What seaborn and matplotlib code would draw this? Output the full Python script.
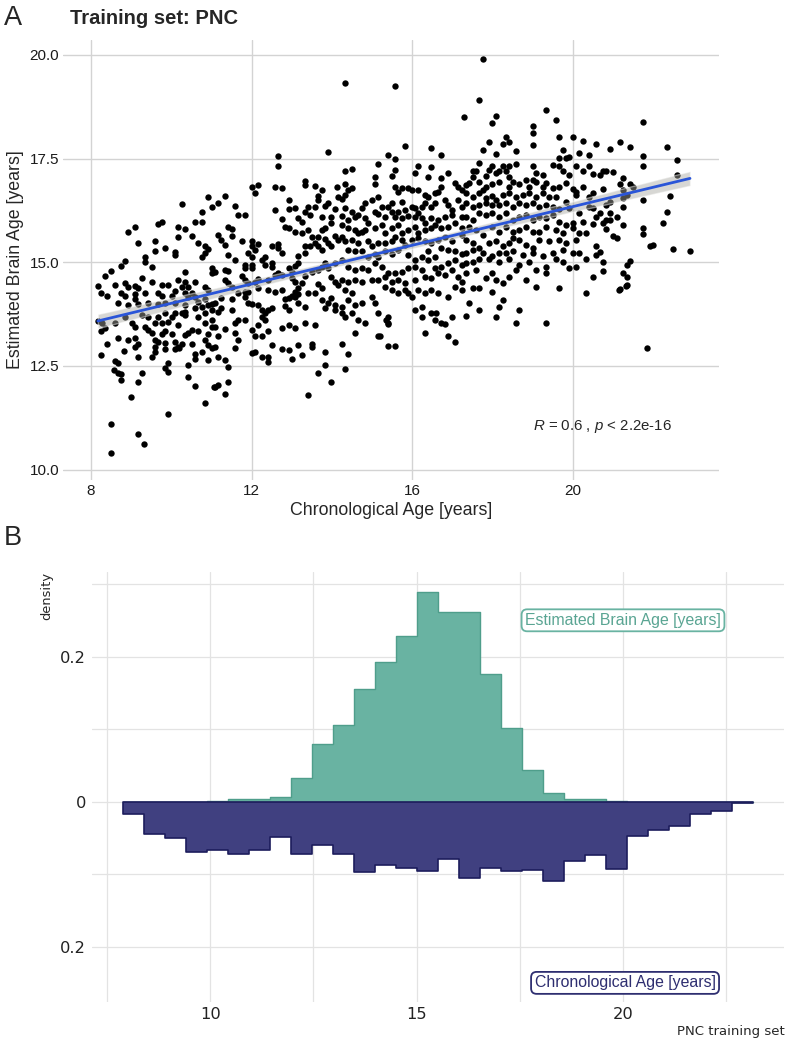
import numpy as np
import pandas as pd
import matplotlib.pyplot as plt
import seaborn as sns

# ---- scatter values: (chronological age, estimated brain age) ----
pts_age08_11 = [
    (10.92, 16.58), (11.01, 16.32), (10.26, 16.41), (10.76, 16.20), (10.59, 15.96), (10.76, 15.97),
    (9.68, 15.92), (9.76, 15.97), (9.10, 15.86), (8.91, 15.73), (10.17, 15.84), (10.34, 15.81),
    (10.17, 15.62), (10.51, 15.63), (9.16, 15.46), (9.59, 15.51), (9.59, 15.27), (9.84, 15.34),
    (10.09, 15.25), (10.09, 15.17), (10.67, 15.46), (10.84, 15.38), (10.92, 15.33), (10.84, 15.22),
    (10.76, 15.12), (9.34, 15.12), (9.34, 15.01), (9.51, 14.89), (8.85, 15.03), (8.75, 14.91),
    (8.51, 14.80), (8.35, 14.67), (11.01, 14.85), (11.01, 14.73), (10.34, 14.76), (10.17, 14.57),
    (10.34, 14.52), (10.59, 14.52), (10.42, 14.41), (10.26, 14.41), (9.26, 14.61), (9.51, 14.52),
    (8.60, 14.45), (8.85, 14.49), (8.93, 14.40), (9.10, 14.43), (9.18, 14.37), (9.76, 14.44),
    (9.93, 14.44), (10.09, 14.31), (8.17, 14.43), (8.25, 14.25), (8.41, 14.19), (8.76, 14.25),
    (8.85, 14.19), (9.10, 14.23), (9.10, 14.11), (9.34, 14.27), (9.68, 14.27), (9.76, 14.19),
    (10.01, 14.19), (10.51, 14.27), (10.59, 14.17), (10.84, 14.40), (10.92, 14.33), (10.34, 14.27),
    (10.42, 14.17), (10.67, 14.05), (10.84, 14.11), (10.92, 13.97), (11.01, 13.85), (8.68, 14.02),
    (8.93, 13.96), (9.18, 13.99), (9.43, 14.01), (9.68, 13.99), (9.84, 14.02), (10.09, 14.01),
    (10.34, 13.98), (10.26, 13.77), (10.34, 13.81), (10.59, 13.89), (10.76, 13.93), (10.84, 13.77),
    (11.01, 13.99), (8.18, 13.59), (8.27, 13.53), (8.25, 13.33), (8.35, 13.41), (8.60, 13.54),
    (8.85, 13.69), (9.01, 13.53), (9.10, 13.45), (9.26, 13.73), (9.34, 13.45), (9.43, 13.69),
    (9.59, 13.53), (9.68, 13.67), (9.76, 13.54), (9.84, 13.77), (9.93, 13.57), (10.01, 13.69),
    (10.09, 13.77), (10.17, 13.49), (10.34, 13.73), (10.67, 13.69), (10.84, 13.53), (11.01, 13.61),
    (9.43, 13.37), (9.51, 13.30), (9.76, 13.28), (9.84, 13.33), (10.01, 13.27), (10.34, 13.25),
    (10.42, 13.30), (10.51, 13.37), (10.67, 13.33), (10.92, 13.28), (11.01, 13.45), (8.68, 13.17),
    (8.93, 13.12), (9.10, 13.17), (9.18, 13.04), (9.59, 13.12), (9.68, 13.08), (9.84, 13.06),
    (10.09, 13.08), (10.17, 12.96), (10.26, 13.04), (10.51, 13.04), (10.84, 13.12), (10.92, 13.00),
    (11.01, 12.92), (8.41, 13.03), (8.83, 12.87), (9.10, 12.96), (9.16, 12.72), (9.59, 12.96),
    (9.59, 12.84), (9.84, 12.90), (10.09, 12.90), (10.20, 12.93), (9.51, 12.71), (8.25, 12.76),
    (10.59, 12.79), (10.76, 12.84), (10.92, 12.64), (10.59, 12.66), (8.60, 12.63), (8.68, 12.56),
    (8.58, 12.40), (8.68, 12.34), (8.76, 12.30), (8.75, 12.16), (9.93, 12.56), (9.84, 12.44),
    (9.93, 12.36), (10.42, 12.52), (9.26, 12.32), (9.16, 12.12), (10.42, 12.24), (10.59, 12.01),
    (11.07, 11.98), (10.84, 11.61), (8.99, 11.74), (9.91, 11.34), (8.50, 11.10), (9.16, 10.87),
    (8.50, 10.39), (9.33, 10.62),
]

pts_age11_14 = [
    (13.91, 17.65), (12.67, 17.55), (12.67, 17.31), (12.00, 16.82), (12.17, 16.87), (12.09, 16.68),
    (12.58, 16.81), (12.75, 16.78), (13.33, 16.97), (13.33, 16.87), (13.58, 16.84), (13.75, 16.74),
    (13.66, 16.60), (13.66, 16.50), (14.12, 16.82), (11.34, 16.60), (11.17, 16.42), (11.59, 16.36),
    (11.67, 16.14), (11.84, 16.14), (12.58, 16.25), (12.92, 16.50), (12.75, 16.04), (12.92, 16.28),
    (13.08, 16.30), (13.16, 16.06), (13.25, 15.96), (13.33, 16.22), (13.45, 16.14), (13.41, 16.34),
    (13.58, 16.34), (13.75, 16.08), (13.83, 16.36), (13.91, 16.42), (13.99, 16.10), (14.08, 16.28),
    (14.16, 16.58), (12.83, 15.86), (12.92, 15.82), (13.08, 15.74), (13.25, 15.70), (11.42, 15.86),
    (11.50, 15.80), (11.17, 15.66), (11.25, 15.54), (11.34, 15.42), (11.50, 15.63), (11.75, 15.52),
    (12.00, 15.52), (12.00, 15.39), (12.17, 15.44), (11.92, 15.22), (12.00, 15.13), (12.09, 15.30),
    (11.59, 15.05), (11.42, 15.18), (12.50, 15.38), (12.67, 15.44), (12.67, 15.34), (12.75, 15.22),
    (13.41, 15.78), (13.50, 15.62), (13.66, 15.62), (13.75, 15.78), (13.83, 15.82), (13.99, 15.94),
    (13.83, 15.56), (13.91, 15.47), (14.08, 15.63), (14.16, 15.54), (13.58, 15.46), (13.45, 15.39),
    (13.66, 15.38), (13.75, 15.30), (13.99, 15.38), (13.33, 15.38), (13.33, 15.22), (13.16, 15.15),
    (13.08, 14.91), (13.16, 14.97), (12.92, 14.85), (13.00, 14.77), (12.25, 15.05), (12.33, 15.13),
    (12.33, 14.93), (12.50, 14.99), (12.50, 14.89), (11.84, 14.93), (11.84, 14.85), (12.00, 14.93),
    (12.00, 14.85), (11.34, 14.81), (11.42, 14.80), (11.09, 14.77), (11.75, 14.67), (11.84, 14.57),
    (11.92, 14.49), (12.09, 14.53), (12.17, 14.59), (12.42, 14.56), (12.58, 14.69), (12.67, 14.73),
    (12.75, 14.69), (11.34, 14.57), (11.42, 14.49), (11.50, 14.41), (11.25, 14.13), (11.50, 14.11),
    (11.09, 14.01), (11.67, 14.25), (11.84, 14.29), (11.92, 14.29), (12.17, 14.37), (12.42, 14.33),
    (12.58, 14.29), (12.75, 14.33), (13.00, 14.61), (13.08, 14.53), (13.08, 14.29), (13.16, 14.37),
    (13.25, 14.49), (13.33, 14.67), (13.50, 14.77), (13.66, 14.81), (13.75, 14.89), (13.83, 14.97),
    (13.91, 14.85), (14.08, 14.97), (13.99, 14.65), (14.08, 14.53), (14.16, 14.45), (13.66, 14.48),
    (13.58, 14.25), (13.41, 14.25), (13.75, 14.37), (13.00, 14.19), (13.08, 14.15), (13.16, 14.24),
    (12.83, 14.11), (12.92, 14.13), (12.83, 13.95), (12.92, 13.85), (13.16, 14.01), (13.33, 13.93),
    (13.75, 14.09), (13.83, 13.89), (13.91, 14.01), (13.99, 14.13), (14.08, 13.97), (14.08, 13.85),
    (11.84, 14.15), (11.92, 14.01), (12.00, 14.00), (12.17, 13.97), (12.25, 13.85), (12.33, 13.78),
    (12.42, 13.85), (12.50, 13.89), (12.25, 13.69), (12.33, 13.61), (11.25, 13.89), (11.50, 13.85),
    (11.17, 13.81), (11.59, 13.53), (11.67, 13.61), (11.84, 13.61), (12.00, 13.37), (12.09, 13.21),
    (12.25, 13.21), (12.17, 13.49), (12.42, 13.33), (12.75, 13.41), (12.92, 13.49), (13.08, 13.41),
    (13.33, 13.53), (13.58, 13.49), (11.09, 13.45), (11.34, 13.38), (11.17, 13.21), (11.59, 13.29),
    (11.67, 13.12), (11.59, 12.92), (11.09, 12.96), (11.17, 12.72), (11.34, 12.64), (12.09, 12.84),
    (12.00, 12.80), (12.25, 12.72), (12.42, 12.72), (12.42, 12.60), (12.50, 13.00), (12.75, 12.90),
    (12.92, 12.88), (13.00, 12.66), (13.16, 13.00), (13.25, 12.76), (13.50, 13.04), (13.50, 12.95),
    (13.83, 12.84), (13.83, 12.52), (13.66, 12.34), (11.42, 12.48), (11.42, 12.12), (11.17, 12.04),
    (11.09, 12.00), (11.34, 11.82), (13.41, 11.80), (13.99, 12.12),
]

pts_age14_17 = [
    (14.33, 19.32), (15.57, 19.25), (17.30, 18.50), (15.82, 17.80), (16.48, 17.76), (15.41, 17.59),
    (15.57, 17.50), (16.73, 17.58), (15.16, 17.37), (14.49, 17.24), (14.33, 17.19), (16.15, 17.32),
    (16.07, 17.14), (16.48, 17.29), (16.40, 17.06), (16.90, 17.14), (15.07, 17.06), (15.07, 16.88),
    (15.49, 17.08), (15.57, 17.23), (14.33, 16.89), (14.41, 16.73), (14.49, 16.78), (14.33, 16.62),
    (14.24, 16.52), (15.57, 16.81), (15.74, 16.78), (15.65, 16.70), (15.90, 16.78), (15.99, 16.73),
    (16.15, 16.74), (16.32, 16.62), (16.40, 16.58), (16.57, 16.68), (16.65, 16.70), (16.73, 17.02),
    (16.73, 16.82), (17.07, 16.90), (17.15, 16.82), (17.23, 16.74), (14.82, 16.42), (14.74, 16.30),
    (14.99, 16.50), (15.16, 16.57), (15.24, 16.34), (15.41, 16.34), (15.49, 16.44), (15.74, 16.46),
    (15.65, 16.22), (15.82, 16.26), (15.99, 16.34), (16.07, 16.30), (16.15, 16.18), (16.24, 16.34),
    (16.32, 16.42), (16.48, 16.34), (16.57, 16.42), (16.82, 16.50), (16.90, 16.38), (16.98, 16.26),
    (17.15, 16.50), (17.23, 16.34), (14.33, 16.30), (14.49, 16.22), (14.24, 16.12), (14.41, 16.02),
    (14.57, 16.10), (14.66, 16.14), (14.82, 16.06), (14.91, 15.94), (15.07, 16.22), (15.16, 16.16),
    (15.32, 16.10), (15.49, 16.20), (15.57, 16.10), (15.74, 16.06), (15.90, 16.12), (16.07, 16.10),
    (16.24, 16.06), (16.32, 15.94), (16.48, 16.06), (16.65, 16.02), (16.82, 16.10), (16.98, 16.14),
    (17.23, 16.10), (14.24, 15.90), (14.41, 15.82), (14.57, 15.78), (14.66, 15.70), (14.74, 15.74),
    (14.82, 15.78), (15.07, 15.82), (15.24, 15.90), (15.32, 15.70), (15.49, 15.82), (15.65, 15.90),
    (15.74, 15.70), (15.90, 15.78), (16.07, 15.86), (16.15, 15.70), (16.32, 15.78), (16.48, 15.82),
    (16.57, 15.90), (16.73, 15.82), (16.90, 15.86), (17.07, 15.94), (17.23, 15.82), (14.24, 15.62),
    (14.33, 15.50), (14.49, 15.54), (14.66, 15.46), (14.91, 15.50), (14.99, 15.38), (15.16, 15.47),
    (15.32, 15.46), (15.49, 15.50), (15.57, 15.62), (15.74, 15.54), (15.82, 15.42), (15.99, 15.54),
    (16.15, 15.58), (16.32, 15.50), (16.48, 15.46), (16.65, 15.54), (16.82, 15.62), (16.98, 15.50),
    (17.23, 15.66), (14.41, 15.30), (14.57, 15.26), (14.74, 15.26), (14.91, 15.13), (15.07, 15.21),
    (15.16, 15.13), (15.32, 15.26), (15.49, 15.21), (15.65, 15.30), (15.90, 15.17), (16.07, 15.05),
    (16.24, 15.13), (16.40, 15.26), (16.57, 15.13), (16.73, 15.34), (16.90, 15.30), (17.07, 15.26),
    (17.23, 15.21), (14.24, 15.05), (14.41, 14.89), (14.57, 14.81), (14.74, 14.85), (14.91, 14.81),
    (15.07, 14.97), (15.24, 14.89), (15.41, 14.73), (15.57, 14.73), (15.74, 14.77), (15.90, 14.85),
    (16.07, 14.89), (16.24, 14.81), (16.40, 15.05), (16.57, 14.85), (16.73, 14.89), (16.90, 14.97),
    (17.07, 15.05), (17.23, 14.93), (14.24, 14.57), (14.41, 14.53), (14.57, 14.57), (14.74, 14.53),
    (14.99, 14.57), (15.16, 14.57), (15.32, 14.65), (15.49, 14.53), (15.65, 14.57), (15.82, 14.49),
    (16.07, 14.57), (16.32, 14.65), (16.48, 14.61), (16.65, 14.73), (16.82, 14.69), (16.98, 14.81),
    (17.15, 14.65), (17.23, 14.53), (14.33, 14.33), (14.49, 14.25), (14.24, 13.93), (14.41, 14.09),
    (14.57, 13.97), (14.74, 14.01), (14.99, 14.15), (15.07, 14.01), (15.32, 14.41), (15.49, 14.33),
    (15.65, 14.25), (15.82, 14.33), (15.90, 14.25), (15.99, 14.17), (16.15, 14.33), (16.32, 14.25),
    (16.48, 14.33), (16.65, 14.25), (16.90, 14.17), (17.07, 14.41), (17.23, 14.33), (14.24, 13.77),
    (14.33, 13.69), (14.49, 13.77), (14.66, 13.61), (14.82, 13.53), (15.16, 13.77), (15.41, 13.53),
    (15.41, 13.69), (16.07, 13.85), (16.24, 13.69), (16.48, 13.77), (16.57, 13.61), (16.73, 13.53),
    (16.98, 13.69), (14.57, 13.29), (15.16, 13.21), (16.32, 13.29), (16.90, 13.21), (17.07, 13.08),
    (14.24, 13.04), (15.41, 12.99), (15.57, 12.99), (14.33, 12.42), (14.41, 12.79), (15.34, 13.61),
    (15.40, 13.51), (15.20, 13.22), (16.25, 13.91), (16.59, 13.77), (16.83, 13.51),
]

pts_age17_20 = [
    (17.76, 19.90), (17.67, 18.91), (18.09, 18.53), (18.00, 18.35), (19.33, 18.67), (19.58, 18.42),
    (19.00, 18.29), (19.00, 18.11), (19.00, 17.82), (18.34, 18.03), (18.25, 17.85), (18.42, 17.91),
    (17.92, 17.90), (17.76, 17.71), (18.09, 17.61), (18.59, 17.69), (19.66, 18.01), (20.00, 18.03),
    (20.25, 17.92), (20.41, 17.59), (19.75, 17.71), (20.16, 17.63), (19.66, 17.51), (19.83, 17.51),
    (19.91, 17.53), (17.67, 17.40), (18.00, 17.31), (18.25, 17.31), (18.42, 17.32), (18.59, 17.37),
    (17.51, 17.21), (17.59, 17.19), (17.51, 17.05), (17.92, 17.23), (18.09, 17.15), (18.17, 17.19),
    (17.84, 17.07), (18.34, 17.19), (18.42, 17.05), (19.00, 17.31), (19.08, 17.15), (19.25, 17.11),
    (19.00, 16.98), (19.50, 17.35), (19.66, 17.31), (19.75, 17.19), (19.91, 17.11), (20.08, 17.32),
    (20.25, 17.19), (20.41, 17.31), (17.34, 16.86), (17.42, 16.90), (17.67, 16.94), (17.76, 16.74),
    (17.84, 16.82), (18.00, 16.89), (18.17, 16.94), (18.42, 16.82), (18.50, 16.94), (18.67, 16.89),
    (18.83, 16.98), (18.92, 16.82), (19.08, 16.94), (19.25, 16.82), (19.33, 16.90), (19.50, 16.78),
    (19.66, 16.82), (19.83, 16.90), (20.00, 16.76), (20.08, 16.70), (20.25, 16.82), (17.34, 16.66),
    (17.51, 16.58), (17.67, 16.66), (17.84, 16.54), (18.00, 16.60), (18.09, 16.50), (18.25, 16.62),
    (18.42, 16.66), (18.59, 16.58), (18.75, 16.62), (18.92, 16.66), (19.08, 16.58), (19.25, 16.66),
    (19.42, 16.58), (19.58, 16.58), (19.83, 16.46), (20.08, 16.62), (20.41, 16.58), (17.34, 16.42),
    (17.51, 16.34), (17.67, 16.38), (17.84, 16.42), (18.00, 16.38), (18.17, 16.38), (18.34, 16.42),
    (18.50, 16.34), (18.67, 16.44), (18.83, 16.38), (19.00, 16.42), (19.17, 16.34), (19.33, 16.38),
    (19.50, 16.34), (19.66, 16.28), (19.91, 16.30), (20.16, 16.18), (20.41, 16.34), (17.34, 16.10),
    (17.51, 16.02), (17.67, 16.18), (17.84, 16.14), (18.00, 16.18), (18.17, 16.10), (18.34, 16.18),
    (18.50, 16.02), (18.67, 16.10), (18.83, 16.14), (19.00, 16.02), (19.17, 16.10), (19.33, 16.06),
    (19.50, 16.14), (19.66, 15.98), (19.83, 15.90), (20.00, 15.94), (20.25, 15.98), (17.42, 15.86),
    (17.59, 15.78), (17.76, 15.66), (18.00, 15.86), (18.17, 15.74), (18.34, 15.86), (18.50, 15.74),
    (18.50, 15.58), (18.67, 15.78), (18.83, 15.86), (19.00, 15.74), (19.17, 15.74), (19.33, 15.86),
    (19.58, 15.78), (19.75, 15.70), (20.00, 15.82), (20.16, 15.70), (20.33, 15.70), (17.34, 15.54),
    (17.51, 15.46), (17.67, 15.34), (17.92, 15.46), (18.09, 15.50), (18.25, 15.38), (18.42, 15.46),
    (18.67, 15.54), (18.83, 15.42), (19.00, 15.34), (19.17, 15.54), (19.42, 15.50), (19.66, 15.54),
    (19.83, 15.46), (20.08, 15.54), (17.34, 15.22), (17.51, 15.30), (17.76, 15.22), (18.00, 15.14),
    (18.17, 15.22), (18.34, 15.22), (18.50, 15.26), (18.75, 15.18), (19.00, 15.22), (19.25, 15.14),
    (19.50, 15.22), (19.75, 15.30), (20.00, 15.22), (20.16, 15.22), (20.33, 15.07), (17.34, 14.97),
    (17.51, 15.01), (17.67, 15.07), (17.92, 15.07), (18.17, 15.01), (18.42, 15.07), (18.67, 14.93),
    (18.92, 15.01), (19.08, 14.81), (19.33, 14.89), (19.58, 15.07), (19.75, 15.01), (19.91, 14.85),
    (20.08, 14.89), (17.34, 14.73), (17.59, 14.81), (17.84, 14.61), (18.00, 14.73), (18.09, 14.57),
    (18.25, 14.49), (18.42, 14.65), (18.59, 14.81), (18.83, 14.57), (19.08, 14.41), (19.33, 14.73),
    (19.66, 14.37), (17.51, 14.37), (17.67, 14.37), (18.00, 14.29), (18.25, 14.09), (18.17, 13.93),
    (17.42, 14.01), (17.67, 13.85), (17.34, 13.70), (18.09, 13.69), (18.67, 13.86), (18.59, 13.53),
    (19.33, 13.54), (20.33, 14.27),
]

pts_age20_23 = [
    (21.76, 18.39), (22.34, 17.79), (22.59, 17.47), (21.76, 17.56), (21.76, 17.31), (22.59, 17.11),
    (20.59, 17.85), (21.18, 17.89), (21.42, 17.79), (20.93, 17.73), (20.51, 17.13), (20.68, 17.11),
    (20.76, 17.21), (20.84, 17.19), (21.01, 17.17), (21.26, 17.02), (21.18, 16.89), (21.42, 16.89),
    (21.51, 16.81), (21.26, 16.74), (20.76, 16.76), (20.51, 16.66), (21.34, 16.62), (21.26, 16.54),
    (21.76, 16.50), (22.42, 16.60), (20.84, 16.38), (20.93, 16.46), (20.51, 16.30), (21.26, 16.34),
    (20.68, 16.18), (20.59, 16.10), (20.93, 16.18), (21.09, 16.08), (20.84, 16.02), (20.76, 15.94),
    (20.93, 16.02), (21.26, 15.90), (20.51, 15.92), (20.84, 15.79), (21.76, 15.82), (21.76, 15.68),
    (21.01, 15.63), (21.09, 15.58), (22.25, 15.95), (22.34, 16.20), (21.92, 15.39), (22.01, 15.41),
    (22.50, 15.31), (22.92, 15.26), (20.59, 15.40), (20.68, 15.24), (20.59, 15.18), (20.76, 15.01),
    (20.51, 14.65), (20.76, 14.79), (21.34, 14.93), (21.42, 15.03), (21.26, 14.73), (21.34, 14.64),
    (21.18, 14.35), (21.34, 14.44), (21.84, 12.93), (21.15, 14.33), (21.32, 14.43),
]

# ---- panel B: density per bin (30 bins) ----
hist_edges = list(np.linspace(7.9, 23.14, 31))
brain_density = [0, 0, 0, 0, 0.001, 0.003, 0.003, 0.007, 0.032, 0.080,
                 0.106, 0.155, 0.192, 0.228, 0.289, 0.262, 0.262, 0.176, 0.101, 0.044,
                 0.012, 0.004, 0.003, 0.0014, 0, 0, 0, 0, 0, 0]
chron_density = [0.0174, 0.0445, 0.050, 0.070, 0.0665, 0.072, 0.0665, 0.049, 0.072, 0.0605,
                 0.072, 0.0977, 0.087, 0.0917, 0.0963, 0.079, 0.1055, 0.091, 0.0963, 0.094,
                 0.109, 0.0826, 0.073, 0.093, 0.047, 0.039, 0.033, 0.0174, 0.0124, 0.0014]

sns.set_style("white")
plt.rcParams["font.family"] = ["Liberation Sans", "DejaVu Sans"]
plt.rcParams["mathtext.fontset"] = "custom"
plt.rcParams["mathtext.it"] = "Liberation Sans:italic"
plt.rcParams["mathtext.rm"] = "Liberation Sans"

all_pts = pts_age08_11 + pts_age11_14 + pts_age14_17 + pts_age17_20 + pts_age20_23
df = pd.DataFrame(all_pts, columns=["age", "brain"])

centers = [(a + b) / 2 for a, b in zip(hist_edges[:-1], hist_edges[1:])]
hist_df = pd.DataFrame({"mid": centers,
                        "brain": brain_density,
                        "chron": [-v for v in chron_density]})

fig = plt.figure(figsize=(7.87, 10.45), dpi=100)

# ---------------- A: scatter + lm ----------------
ax1 = fig.add_axes([0.0804, 0.5407, 0.8336, 0.4211])
sns.scatterplot(data=df, x="age", y="brain", ax=ax1, s=21, color="black", linewidth=0, zorder=3)
sns.regplot(data=df, x="age", y="brain", ax=ax1, scatter=False, color="#a8a8a0",
            line_kws={"lw": 0}, seed=0)
ax1.collections[-1].set_alpha(0.45)
ax1.collections[-1].set_zorder(4)
sns.regplot(data=df, x="age", y="brain", ax=ax1, scatter=False, ci=None, color="#2a55d8",
            line_kws={"lw": 2.0, "zorder": 5})

ax1.set_xlim(7.31, 23.65)
ax1.set_ylim(9.75, 20.36)
ax1.set_xticks([8, 12, 16, 20])
ax1.set_yticks([10, 12.5, 15, 17.5, 20])
ax1.set_yticklabels(["10.0", "12.5", "15.0", "17.5", "20.0"])
ax1.grid(True, color="#d3d3d3", lw=1)
ax1.set_axisbelow(True)
for sp in ax1.spines.values():
    sp.set_visible(False)
ax1.tick_params(length=0, labelsize=11, pad=3, colors="#1a1a1a")
ax1.set_xlabel("Chronological Age [years]", fontsize=12.8, labelpad=3)
ax1.set_ylabel("Estimated Brain Age [years]", fontsize=12.8, labelpad=4)
ax1.text(19.01, 11.03, r"$R$ = 0.6 , $p$ < 2.2e-16", fontsize=10.8, va="center")

fig.text(13 / 787, 1 - 18 / 1045, "A", fontsize=19.5, ha="center", va="center")
fig.text(70 / 787, 1 - 19 / 1045, "Training set: PNC", fontsize=14.5, fontweight="bold",
         ha="left", va="center")

# ---------------- B: mirrored histogram ----------------
ax2 = fig.add_axes([0.1165, 0.0414, 0.8797, 0.4115])
sns.histplot(data=hist_df, x="mid", weights="brain", bins=hist_edges, element="step", fill=True,
             color="#69b3a2", alpha=1, edgecolor="#4f9e8b", linewidth=1, ax=ax2)
sns.histplot(data=hist_df, x="mid", weights="chron", bins=hist_edges, element="step",
             fill=True, color="#404080", alpha=1, edgecolor="#1d1d5c", linewidth=1.2, ax=ax2)

ax2.set_xlim(7.13, 23.9)
ax2.set_ylim(-0.276, 0.317)
ax2.set_xticks([10, 15, 20])
ax2.set_xticks([7.5, 12.5, 17.5, 22.5], minor=True)
ax2.set_yticks([-0.2, 0, 0.2])
ax2.set_yticklabels(["0.2", "0", "0.2"])
ax2.set_yticks([-0.1, 0.1, 0.3], minor=True)
ax2.grid(True, which="both", color="#e3e3e3", lw=0.9)
ax2.set_axisbelow(True)
for sp in ax2.spines.values():
    sp.set_visible(False)
ax2.tick_params(which="both", length=0, pad=4, colors="#222222")
for lab in ax2.get_xticklabels() + ax2.get_yticklabels():
    lab.set_family("DejaVu Sans")
    lab.set_fontsize(11.7)
ax2.set_xlabel("")
ax2.set_ylabel("")

ax2.text(20.0, 0.25, "Estimated Brain Age [years]", color="#5aa593", fontsize=11.4,
         ha="center", va="center",
         bbox=dict(boxstyle="round,pad=0.22,rounding_size=0.35", fc="white", ec="#69b3a2", lw=1.3))
ax2.text(20.05, -0.25, "Chronological Age [years]", color="#2e2e70", fontsize=11.4,
         ha="center", va="center",
         bbox=dict(boxstyle="round,pad=0.22,rounding_size=0.35", fc="white", ec="#2e2e70", lw=1.3))

fig.text(47 / 787, 1 - 596 / 1045, "density", fontsize=9.4, family="DejaVu Sans",
         rotation=90, ha="center", va="center")
fig.text(785 / 787, 1 - 1031 / 1045, "PNC training set", fontsize=9.5, family="DejaVu Sans",
         ha="right", va="center")
fig.text(13 / 787, 1 - 538 / 1045, "B", fontsize=19.5, ha="center", va="center")

fig.savefig("out.png", dpi=100)
